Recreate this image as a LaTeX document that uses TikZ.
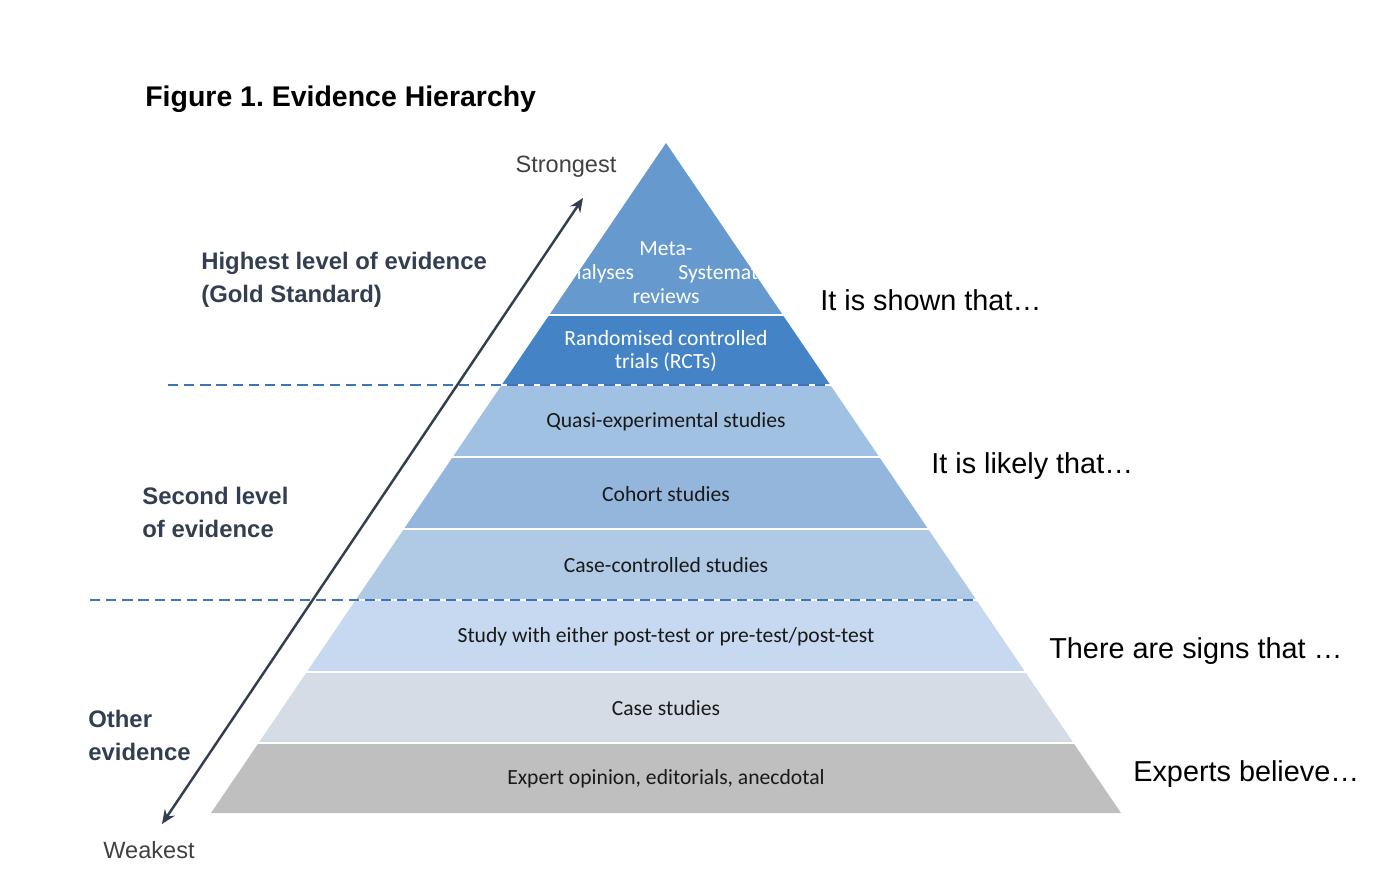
\documentclass[tikz,border=0pt]{standalone}
\usepackage{fontspec}
\setmainfont{Liberation Sans}
\newfontfamily\calibri{Carlito}
\usepackage{tikz}
\usetikzlibrary{positioning, arrows.meta, calc}
\frenchspacing

\definecolor{topblue}{RGB}{102,153,205}
\definecolor{rctblue}{RGB}{68,132,198}
\definecolor{quasiblue}{RGB}{160,193,226}
\definecolor{cohortblue}{RGB}{149,182,220}
\definecolor{ctrlblue}{RGB}{176,202,230}
\definecolor{studyblue}{RGB}{198,217,240}
\definecolor{casegrey}{RGB}{214,220,229}
\definecolor{expertgrey}{RGB}{191,191,191}
\definecolor{levelblue}{RGB}{62,117,182}
\definecolor{darkslate}{RGB}{51,63,80}
\definecolor{endgrey}{RGB}{64,64,64}

% left and right edge of the pyramid at height y (pixels)
\newcommand{\pyrL}[1]{666-0.6791*(#1-143)}
\newcommand{\pyrR}[1]{666+0.6791*(#1-143)}

\begin{document}
\begin{tikzpicture}[
    x=0.02cm, y=-0.02cm,
    layertext/.style={font=\calibri\fontsize{12.3}{13.6}\selectfont, align=center, text=black!90},
    sidelabel/.style={font=\bfseries\fontsize{13.6}{18.8}\selectfont, align=left, text=darkslate, anchor=west, inner sep=0pt},
    claim/.style={font=\fontsize{16.4}{19}\selectfont, anchor=west, inner sep=0pt},
    endlabel/.style={font=\fontsize{13.4}{16}\selectfont, text=endgrey, inner sep=0pt},
    levelline/.style={draw=levelblue, line width=1.7pt, dash pattern=on 5.8pt off 3.4pt},
    arrow/.style={{Stealth[length=2.8mm,width=2.4mm]}-{Stealth[length=2.8mm,width=2.4mm]}, line width=1.4pt, draw=darkslate}
]
\useasboundingbox (0,0) rectangle (1383,885);

% Title
\node[anchor=west, inner sep=0pt, font=\bfseries\fontsize{16.2}{19}\selectfont] (title) at (145,99) {Figure 1. Evidence Hierarchy};

% Pyramid layers
\foreach \top/\bot/\col in {143/315/topblue, 315/385/rctblue, 385/457/quasiblue, 457/529/cohortblue,
                            529/600/ctrlblue, 600/672/studyblue, 672/743/casegrey, 743/813/expertgrey}
    \fill[\col] ({\pyrL{\top}},\top) -- ({\pyrR{\top}},\top) -- ({\pyrR{\bot}},\bot) -- ({\pyrL{\bot}},\bot) -- cycle;

% white gaps between layers
\foreach \y in {315,385,457,529,600,672,743}
    \draw[white, line width=1.6pt] ({\pyrL{\y}-2},\y) -- ({\pyrR{\y}+2},\y);

% Layer texts
\begin{scope}
    \clip (666,143) -- ({\pyrR{315}},315) -- ({\pyrL{315}},315) -- cycle;
    \node[layertext, text=white] (meta) at (666,273) {Meta-\\analyses\hspace{2.05em}Systematic\\reviews};
\end{scope}
\node[layertext, text=white] (rct) at (666,351) {Randomised controlled\\trials (RCTs)};
\node[layertext] (quasi) at (666,422) {Quasi-experimental studies};
\node[layertext] (cohort) at (666,494) {Cohort studies};
\node[layertext] (casectrl) at (666,565) {Case-controlled studies};
\node[layertext] (study) at (666,637) {Study with either post-test or pre-test/post-test};
\node[layertext] (casestudy) at (666,708) {Case studies};
\node[layertext] (expert) at (666,779) {Expert opinion, editorials, anecdotal};

% Level boundaries
\draw[levelline] (168,385) -- ({\pyrR{385}},385);
\draw[levelline] (90,600) -- ({\pyrR{600}},600);

% Levels on the left
\node[sidelabel] (gold) at (201,280) {Highest level of evidence\\(Gold Standard)};
\node[sidelabel] (second) at (142,512) {Second level\\of evidence};
\node[sidelabel] (other) at (88,735) {Other\\evidence};

% Claims on the right
\node[claim] (shown) at (820,300) {It is shown that…};
\node[claim] (likely) at (931,466) {It is likely that…};
\node[claim] (signs) at (1049,651) {There are signs that …};
\node[claim] (believe) at (1133,774) {Experts believe…};

% Strength arrow
\node[endlabel] (strong) at (566,167) {Strongest};
\node[endlabel] (weak) at (149,850) {Weakest};
\coordinate (strongend) at (583,198);
\coordinate (weakend) at (162,824);
\draw[arrow] (weakend) -- (strongend);

\end{tikzpicture}
\end{document}
